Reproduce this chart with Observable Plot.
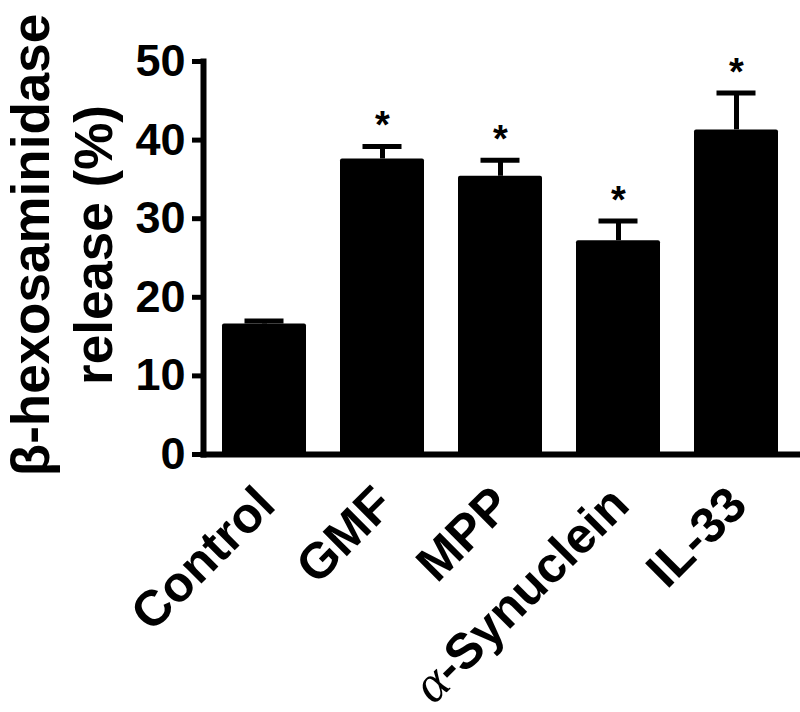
<!DOCTYPE html>
<html><head><meta charset="utf-8">
<script src="https://cdn.jsdelivr.net/npm/d3@7"></script>
<script src="https://cdn.jsdelivr.net/npm/@observablehq/plot@0.6"></script>
<style>body{margin:0;background:#fff} svg{display:block}</style>
</head><body><div id="chart"></div>
<script>
const categories = ["Control", "GMF", "MPP", "α-Synuclein", "IL-33"];
const means = [16.6, 37.6, 35.4, 27.2, 41.3];
const errorTops = [17.0, 39.2, 37.45, 29.7, 46.0];
const significant = [false, true, true, true, true];
const yTicks = [0, 10, 20, 30, 40, 50];
const yLabelLines = ["β-hexosaminidase", "release (%)"];

const data = categories.map((c, i) => ({category: c, mean: means[i], top: errorTops[i], sig: significant[i]}));

const plot = Plot.plot({
  width: 800, height: 712,
  marginLeft: 203, marginRight: 3, marginTop: 61, marginBottom: 258,
  style: {fontFamily: "'Liberation Sans', Arial, sans-serif", fontWeight: "bold", background: "white", color: "black"},
  x: {domain: categories, paddingInner: 0.29, paddingOuter: 0.155, axis: null},
  y: {domain: [0, 50], axis: null},
  marks: [
    Plot.barY(data, {x: "category", y: "mean", fill: "black", rx: 2}),
    Plot.ruleX(data, {x: "category", y1: "mean", y2: "top", stroke: "black", strokeWidth: 5}),
    Plot.tickY(data, {x: "category", y: "top", stroke: "black", strokeWidth: 5, insetLeft: 22.5, insetRight: 22.5}),
    Plot.text(data.filter(d => d.sig), {x: "category", y: "top", text: () => "*", fontSize: 38, fontWeight: "bold", lineAnchor: "bottom", dy: -8, fill: "black"}),
    Plot.axisY({ticks: yTicks, tickSize: 11, tickPadding: 7, strokeWidth: 5, fontSize: 45, fontWeight: "bold", label: null}),
    Plot.frame({anchor: "left", strokeWidth: 6, strokeLinecap: "square"}),
    Plot.frame({anchor: "bottom", strokeWidth: 6}),
    Plot.text(categories, {x: d => d, frameAnchor: "bottom", rotate: -45, textAnchor: "end", lineAnchor: "bottom", dx: 13, dy: 53, fontSize: 50, fontWeight: "bold", fill: "black"})
  ]
});

const svg = d3.select(plot);
svg.selectAll("text").filter(function() { return this.textContent === "α-Synuclein"; }).each(function() {
  const t = d3.select(this);
  t.text(null);
  t.append("tspan").attr("font-family", "'Liberation Serif', 'DejaVu Serif', serif").attr("font-style", "italic").attr("font-weight", "normal").attr("font-size", 52).text("α");
  t.append("tspan").text("-Synuclein");
});
const lbl = svg.append("g").attr("font-size", 53).attr("font-weight", "bold").attr("text-anchor", "middle").attr("fill", "black");
lbl.append("text").attr("transform", "translate(49,245) rotate(-90)").text(yLabelLines[0]);
lbl.append("text").attr("transform", "translate(112,245) rotate(-90)").text(yLabelLines[1]);

document.getElementById("chart").appendChild(plot);
</script>
</body></html>
